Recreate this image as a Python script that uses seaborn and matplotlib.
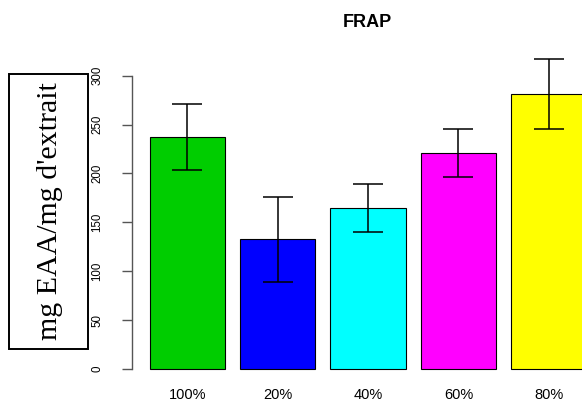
import pandas as pd
import matplotlib
matplotlib.use("Agg")
import matplotlib.pyplot as plt
import matplotlib.patches as mpatches
import seaborn as sns

# valeurs FRAP (moyenne +/- ecart-type)
concentrations = ["100%", "20%", "40%", "60%", "80%"]
moyennes = [237, 132.6, 164.4, 220.6, 281]
ecarts = [33.7, 43.3, 24.3, 24.4, 36]
couleurs = ["#00CD00", "#0000FF", "#00FFFF", "#FF00FF", "#FFFF00"]

df = pd.DataFrame({"conc": concentrations, "frap": moyennes})

sns.set_style("white")
plt.rcParams["font.family"] = ["Liberation Sans", "DejaVu Sans"]
plt.rcParams["text.color"] = "black"

fig = plt.figure(figsize=(5.82, 4.03), dpi=100)
# zone de trace (depasse a droite comme dans l'original)
ax = fig.add_axes([131.8 / 582, (403 - 380.7) / 403, (603 - 131.8) / 582, (380.7 - 51.2) / 403])

sns.barplot(data=df, x="conc", y="frap", hue="conc", palette=couleurs, order=concentrations,
            saturation=1, width=1 / 1.2, edgecolor="black", linewidth=0.8, legend=False, ax=ax)
ax.errorbar(range(len(concentrations)), moyennes, yerr=ecarts, fmt="none",
            ecolor="black", elinewidth=1.1, capsize=11, capthick=1.1)

ax.set_xlim(-0.613, 4.6)
ax.set_ylim(-12, 325)
ax.set_yticks(range(0, 301, 50))
ax.set_xlabel("")
ax.set_ylabel("")

for s in ["top", "right", "bottom"]:
    ax.spines[s].set_visible(False)
ax.spines["left"].set_bounds(0, 300)
ax.spines["left"].set_color("#555555")
ax.spines["left"].set_linewidth(1)

ax.tick_params(axis="y", left=True, length=7.2, width=1, color="#555555", pad=13.4,
               labelsize=8.3, labelrotation=90, labelcolor="black")
ax.tick_params(axis="x", bottom=False, length=0, pad=5, labelsize=10.5, labelcolor="black")
for lab in ax.get_yticklabels():
    lab.set_va("center")

ax.set_title("FRAP", fontsize=13, fontweight="bold", pad=17.6, color="black")

# etiquette de l'axe y dans un cadre
fig.patches.append(mpatches.Rectangle((9 / 582, 1 - 349 / 403), 79 / 582, 275 / 403,
                                      transform=fig.transFigure, fill=False,
                                      edgecolor="black", linewidth=1.4))
fig.text(50 / 582, 1 - 211.5 / 403, "mg EAA/mg d'extrait", rotation=90,
         ha="center", va="center", fontsize=21.5, family=["Liberation Serif", "DejaVu Serif"])

fig.savefig("out.png", dpi=100)
